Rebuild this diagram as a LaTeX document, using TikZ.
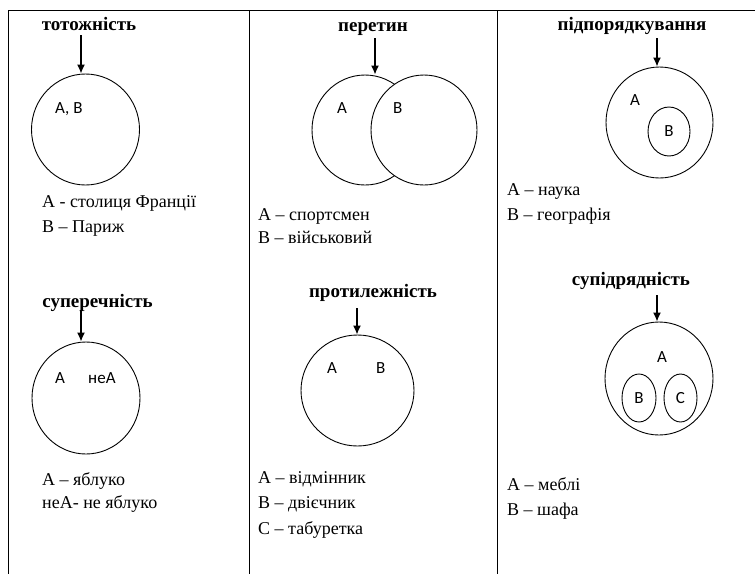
\documentclass[tikz,border=0pt]{standalone}
\usepackage{fontspec}
\setmainfont{Liberation Serif}
\newfontfamily\lblsans{Carlito}
\usepackage{tikz}
\usetikzlibrary{shapes.geometric,arrows.meta}

\begin{document}
\begin{tikzpicture}[x=1pt,y=-1pt,
  txt/.style={anchor=base west,inner sep=0pt,font=\fontsize{18}{22}\selectfont},
  ttl/.style={anchor=base,inner sep=0pt,font=\fontsize{19}{23}\selectfont\bfseries},
  lbl/.style={inner sep=0pt,font=\lblsans\fontsize{17}{20}\selectfont},
  set/.style={draw,ellipse,inner sep=0pt,line width=.9pt},
  arr/.style={-{Latex[length=9pt,width=8pt]},line width=1.4pt}]
  \useasboundingbox (0,0) rectangle (755,574);
  \coordinate (TL) at (8,10); \coordinate (TR) at (755,10);
  \coordinate (BL) at (8,574); \coordinate (M1) at (249,10); \coordinate (M2) at (497,10);
  \draw[line width=1pt] (TL)--(TR); \draw[line width=1pt] (TL)--(BL);
  \draw[line width=1pt] (M1)--(M1 |- BL); \draw[line width=1pt] (M2)--(M2 |- BL);
  % row 1
  \node[ttl] (tot) at (89,30) {тотожність}; \coordinate (tot a) at (81,35);
  \node[set,minimum width=108pt,minimum height=111pt] (totc) at (85.5,129.5) {};
  \draw[arr] (tot a) -- (tot a |- totc.north);
  \node[lbl,anchor=base west] (totl) at (55,113) {A, B};
  \node[txt] (tot1) at (42,207) {А - столиця Франції};
  \node[txt] (tot2) at (42,232) {В – Париж};
  \node[ttl] (per) at (373,31) {перетин}; \coordinate (per a) at (375,38);
  \node[set,minimum width=106pt,minimum height=110pt] (perA) at (365,130) {};
  \node[set,fill=white,minimum width=106pt,minimum height=110pt] (perB) at (424,130) {};
  \draw[arr] (per a) -- (per a |- perA.north);
  \node[lbl,anchor=base west] (perlA) at (337,113) {A};
  \node[lbl,anchor=base west] (perlB) at (393,113) {B};
  \node[txt] (per1) at (258,220) {А – спортсмен};
  \node[txt] (per2) at (258,243) {В – військовий};
  \node[ttl] (pid) at (632,30) {підпорядкування}; \coordinate (pid a) at (657,38);
  \node[set,minimum width=107pt,minimum height=111pt] (pidA) at (659.5,122.5) {};
  \node[set,minimum width=42pt,minimum height=49pt] (pidB) at (669,131.5) {};
  \draw[arr] (pid a) -- (pid a |- pidA.north);
  \node[lbl,anchor=base west] (pidlA) at (630,105) {A};
  \node[lbl] (pidlB) at (pidB) {B};
  \node[txt] (pid1) at (507,195) {А – наука};
  \node[txt] (pid2) at (507,220) {В – географія};
  % row 2
  \node[ttl] (sup) at (97.5,307) {суперечність}; \coordinate (sup a) at (81,310);
  \node[set,minimum width=108pt,minimum height=112pt] (supc) at (86,398) {};
  \draw[arr] (sup a) -- (sup a |- supc.north);
  \node[lbl,anchor=base west] (suplA) at (55,383) {A};
  \node[lbl,anchor=base west] (suplN) at (88,383) {неA};
  \node[txt] (sup1) at (42,485) {А – яблуко};
  \node[txt] (sup2) at (42,508) {неА- не яблуко};
  \node[ttl] (pro) at (373,297) {протилежність}; \coordinate (pro a) at (357,308);
  \node[set,minimum width=113pt,minimum height=111pt] (proc) at (357.5,390.5) {};
  \draw[arr] (pro a) -- (pro a |- proc.north);
  \node[lbl,anchor=base west] (prolA) at (327,373) {A};
  \node[lbl,anchor=base west] (prolB) at (376,373) {B};
  \node[txt] (pro1) at (258,483) {А – відмінник};
  \node[txt] (pro2) at (258,508) {В – двієчник};
  \node[txt] (pro3) at (258,534) {С – табуретка};
  \node[ttl] (spd) at (631,285) {супідрядність}; \coordinate (spd a) at (657,295);
  \node[set,minimum width=108pt,minimum height=113pt] (spdA) at (659,378.5) {};
  \node[set,minimum width=34pt,minimum height=48pt] (spdB) at (639,398) {};
  \node[set,minimum width=33pt,minimum height=48pt] (spdC) at (680.5,398) {};
  \draw[arr] (spd a) -- (spd a |- spdA.north);
  \node[lbl] (spdlA) at (662,357) {A};
  \node[lbl] (spdlB) at (spdB) {B}; \node[lbl] (spdlC) at (spdC) {C};
  \node[txt] (spd1) at (507,490) {А – меблі};
  \node[txt] (spd2) at (507,515) {В – шафа};
\end{tikzpicture}
\end{document}
